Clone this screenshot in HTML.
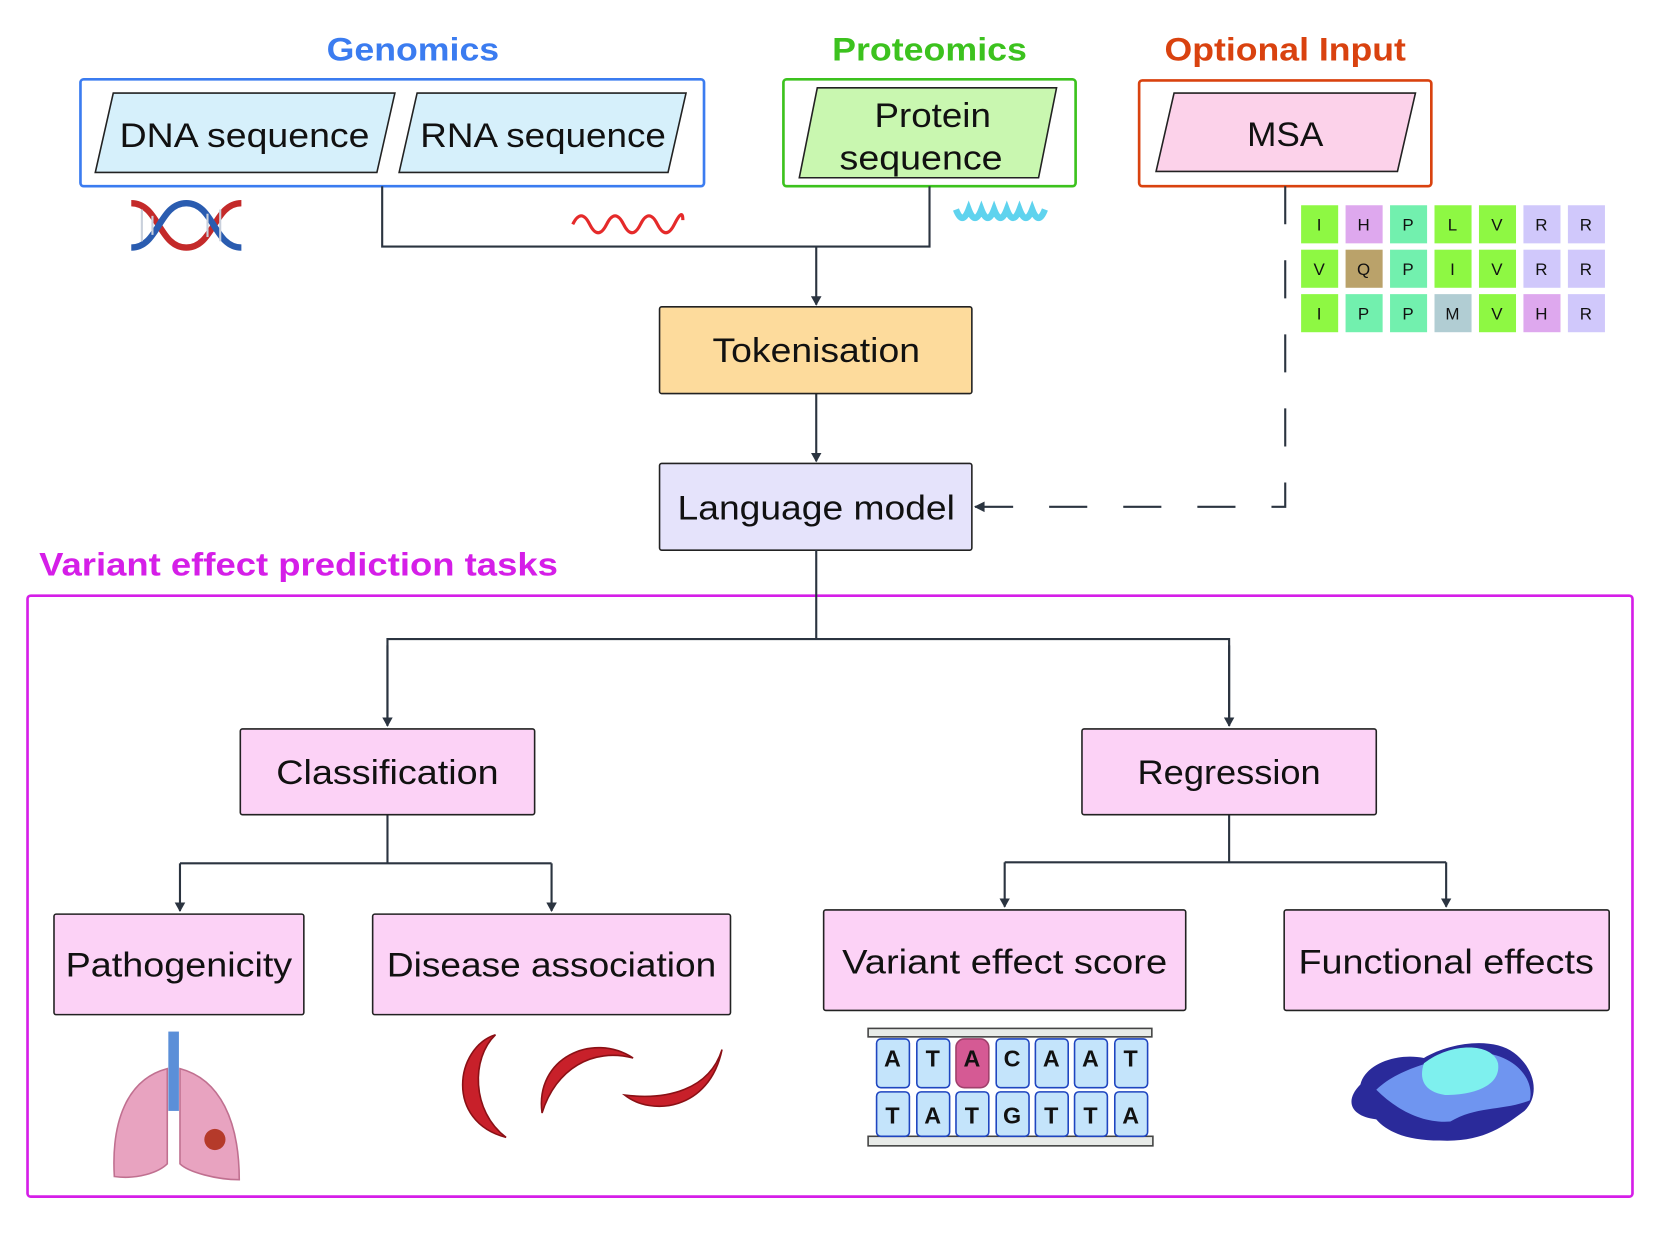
<!DOCTYPE html>
<html><head><meta charset="utf-8"><style>
html,body{margin:0;padding:0;background:#fff;}
svg{display:block;}
text{font-family:"Liberation Sans",sans-serif;}
</style></head><body>
<svg width="1660" height="1240" viewBox="0 0 1568 1172" preserveAspectRatio="none" xmlns="http://www.w3.org/2000/svg">
<defs>
<marker id="ar" markerWidth="10" markerHeight="10" refX="8" refY="5" orient="auto" markerUnits="userSpaceOnUse"><path d="M0,0 L9,5 L0,10 Z" fill="#2b3440"/></marker>
</defs>
<rect width="1568" height="1172" fill="#fff"/>
<g lengthAdjust="spacingAndGlyphs">
<text x="390" y="57" text-anchor="middle" font-size="31" font-weight="bold" fill="#3b7cf0" textLength="163" lengthAdjust="spacingAndGlyphs">Genomics</text>
<text x="878" y="57" text-anchor="middle" font-size="31" font-weight="bold" fill="#3cc21e" textLength="184" lengthAdjust="spacingAndGlyphs">Proteomics</text>
<text x="1214" y="57" text-anchor="middle" font-size="31" font-weight="bold" fill="#d9420f" textLength="228" lengthAdjust="spacingAndGlyphs">Optional Input</text>
</g>
<rect x="76" y="75" width="589" height="101" rx="3" fill="none" stroke="#3b7cf0" stroke-width="2.5"/>
<rect x="740" y="75" width="276" height="101" rx="3" fill="none" stroke="#3cc21e" stroke-width="2.5"/>
<rect x="1076" y="76" width="276" height="100" rx="3" fill="none" stroke="#d9420f" stroke-width="2.5"/>
<polygon points="107,88 373,88 356,163 90,163" fill="#d6f0fb" stroke="#222" stroke-width="1.5"/>
<text x="231" y="139" text-anchor="middle" font-size="32" fill="#111" textLength="236" lengthAdjust="spacingAndGlyphs">DNA sequence</text>
<polygon points="394,88 648,88 631,163 377,163" fill="#d6f0fb" stroke="#222" stroke-width="1.5"/>
<text x="513" y="139" text-anchor="middle" font-size="32" fill="#111" textLength="232" lengthAdjust="spacingAndGlyphs">RNA sequence</text>
<polygon points="772,83 998,83 981,168 755,168" fill="#c9f7b0" stroke="#222" stroke-width="1.5"/>
<text x="881" y="120" text-anchor="middle" font-size="32" fill="#111" textLength="110" lengthAdjust="spacingAndGlyphs">Protein</text>
<text x="870" y="160" text-anchor="middle" font-size="32" fill="#111" textLength="154" lengthAdjust="spacingAndGlyphs">sequence</text>
<polygon points="1109,88 1337,88 1320,162 1092,162" fill="#fcd2ea" stroke="#222" stroke-width="1.5"/>
<text x="1214" y="138" text-anchor="middle" font-size="32" fill="#111" textLength="72" lengthAdjust="spacingAndGlyphs">MSA</text>
<path d="M124,192 C150,192 150,234 176,234 C202,234 202,192 228,192" fill="none" stroke="#c42a2a" stroke-width="6"/>
<path d="M124,234 C150,234 150,192 176,192 C202,192 202,234 228,234" fill="none" stroke="#2a5cb0" stroke-width="6"/>
<g stroke="#c9d0dc" stroke-width="2"><line x1="134" y1="198" x2="134" y2="228"/><line x1="144" y1="204" x2="144" y2="222"/><line x1="196" y1="202" x2="196" y2="224"/><line x1="208" y1="198" x2="208" y2="228"/></g>
<path d="M541,212 q8,-16 16,0 t16,0 t16,0 t16,0 t16,0 t16,0 t8,-4" fill="none" stroke="#e52a2a" stroke-width="3"/>
<path d="M903,198 q6,16 12,0 q6,16 12,0 q6,16 12,0 q6,16 12,0 q6,16 12,0 q6,16 12,0 q6,16 12,0" fill="none" stroke="#5fd3ee" stroke-width="6"/>
<g stroke="#2b3440" stroke-width="2" fill="none">
<polyline points="361,176 361,233 878,233 878,176"/>
<line x1="771" y1="233" x2="771" y2="288" marker-end="url(#ar)"/>
<line x1="771" y1="372" x2="771" y2="436" marker-end="url(#ar)"/>
<polyline points="1214,176 1214,479 920,479" stroke-dasharray="36,34"/>
</g>
<path d="M920,479 L930,474 L930,484 Z" fill="#2b3440"/>
<g font-size="16" text-anchor="middle" fill="#111">
<rect x="1229" y="194" width="35" height="36" fill="#8ef843"/><text x="1246" y="218">I</text>
<rect x="1271" y="194" width="35" height="36" fill="#dea8ee"/><text x="1288" y="218">H</text>
<rect x="1313" y="194" width="35" height="36" fill="#72f0ae"/><text x="1330" y="218">P</text>
<rect x="1355" y="194" width="35" height="36" fill="#8ef843"/><text x="1372" y="218">L</text>
<rect x="1397" y="194" width="35" height="36" fill="#8ef843"/><text x="1414" y="218">V</text>
<rect x="1439" y="194" width="35" height="36" fill="#d0c8fb"/><text x="1456" y="218">R</text>
<rect x="1481" y="194" width="35" height="36" fill="#d0c8fb"/><text x="1498" y="218">R</text>
<rect x="1229" y="236" width="35" height="36" fill="#8ef843"/><text x="1246" y="260">V</text>
<rect x="1271" y="236" width="35" height="36" fill="#baa26a"/><text x="1288" y="260">Q</text>
<rect x="1313" y="236" width="35" height="36" fill="#72f0ae"/><text x="1330" y="260">P</text>
<rect x="1355" y="236" width="35" height="36" fill="#8ef843"/><text x="1372" y="260">I</text>
<rect x="1397" y="236" width="35" height="36" fill="#8ef843"/><text x="1414" y="260">V</text>
<rect x="1439" y="236" width="35" height="36" fill="#d0c8fb"/><text x="1456" y="260">R</text>
<rect x="1481" y="236" width="35" height="36" fill="#d0c8fb"/><text x="1498" y="260">R</text>
<rect x="1229" y="278" width="35" height="36" fill="#8ef843"/><text x="1246" y="302">I</text>
<rect x="1271" y="278" width="35" height="36" fill="#72f0ae"/><text x="1288" y="302">P</text>
<rect x="1313" y="278" width="35" height="36" fill="#72f0ae"/><text x="1330" y="302">P</text>
<rect x="1355" y="278" width="35" height="36" fill="#b1cdd3"/><text x="1372" y="302">M</text>
<rect x="1397" y="278" width="35" height="36" fill="#8ef843"/><text x="1414" y="302">V</text>
<rect x="1439" y="278" width="35" height="36" fill="#dea8ee"/><text x="1456" y="302">H</text>
<rect x="1481" y="278" width="35" height="36" fill="#d0c8fb"/><text x="1498" y="302">R</text>
</g>
<rect x="623" y="290" width="295" height="82" rx="2" fill="#fddb9c" stroke="#222" stroke-width="1.5"/>
<text x="771" y="342" text-anchor="middle" font-size="32" fill="#111" textLength="196" lengthAdjust="spacingAndGlyphs">Tokenisation</text>
<rect x="623" y="438" width="295" height="82" rx="2" fill="#e5e3fb" stroke="#222" stroke-width="1.5"/>
<text x="771" y="491" text-anchor="middle" font-size="32" fill="#111" textLength="262" lengthAdjust="spacingAndGlyphs">Language model</text>
<text x="37" y="544" font-size="31" font-weight="bold" fill="#d51ee8" textLength="490" lengthAdjust="spacingAndGlyphs">Variant effect prediction tasks</text>
<rect x="26" y="563" width="1516" height="568" rx="3" fill="none" stroke="#d51ee8" stroke-width="2.5"/>
<g stroke="#2b3440" stroke-width="2" fill="none">
<line x1="771" y1="520" x2="771" y2="604"/>
<polyline points="366,686 366,604 1161,604 1161,686"/>
<line x1="366" y1="610" x2="366" y2="686" marker-end="url(#ar)"/>
<line x1="1161" y1="610" x2="1161" y2="686" marker-end="url(#ar)"/>
<line x1="366" y1="770" x2="366" y2="816"/>
<polyline points="170,816 521,816"/>
<line x1="170" y1="816" x2="170" y2="861" marker-end="url(#ar)"/>
<line x1="521" y1="816" x2="521" y2="861" marker-end="url(#ar)"/>
<line x1="1161" y1="770" x2="1161" y2="815"/>
<polyline points="949,815 1366,815"/>
<line x1="949" y1="815" x2="949" y2="857" marker-end="url(#ar)"/>
<line x1="1366" y1="815" x2="1366" y2="857" marker-end="url(#ar)"/>
</g>
<g fill="#fcd2f6" stroke="#222" stroke-width="1.5">
<rect x="227" y="689" width="278" height="81" rx="2"/>
<rect x="1022" y="689" width="278" height="81" rx="2"/>
<rect x="51" y="864" width="236" height="95" rx="2"/>
<rect x="352" y="864" width="338" height="95" rx="2"/>
<rect x="778" y="860" width="342" height="95" rx="2"/>
<rect x="1213" y="860" width="307" height="95" rx="2"/>
</g>
<g font-size="32" fill="#111" text-anchor="middle">
<text x="366" y="741" textLength="210" lengthAdjust="spacingAndGlyphs">Classification</text>
<text x="1161" y="741" textLength="173" lengthAdjust="spacingAndGlyphs">Regression</text>
<text x="169" y="923" textLength="214" lengthAdjust="spacingAndGlyphs">Pathogenicity</text>
<text x="521" y="923" textLength="311" lengthAdjust="spacingAndGlyphs">Disease association</text>
<text x="949" y="920" textLength="307" lengthAdjust="spacingAndGlyphs">Variant effect score</text>
<text x="1366" y="920" textLength="279" lengthAdjust="spacingAndGlyphs">Functional effects</text>
</g>
<rect x="159" y="975" width="10" height="75" fill="#5b8fd8"/>
<path d="M158,1010 C120,1020 105,1060 108,1112 C130,1115 150,1108 158,1100 Z" fill="#e8a3c0" stroke="#c07090" stroke-width="1.5"/>
<path d="M170,1010 C208,1020 226,1060 226,1115 C205,1115 178,1108 170,1100 Z" fill="#e8a3c0" stroke="#c07090" stroke-width="1.5"/>
<circle cx="203" cy="1077" r="10" fill="#b53a2a"/>
<path d="M468,978 C430,990 420,1060 478,1075 C445,1050 445,1000 468,978 Z" fill="#c8202a" stroke="#8a1015" stroke-width="1.5"/>
<path d="M512,1052 C505,1000 560,975 598,1000 C560,990 525,1010 512,1052 Z" fill="#c8202a" stroke="#8a1015" stroke-width="1.5"/>
<path d="M590,1035 C615,1055 670,1050 682,992 C670,1030 630,1040 590,1035 Z" fill="#c8202a" stroke="#8a1015" stroke-width="1.5"/>
<rect x="820" y="972" width="268" height="8" fill="#e8ebe8" stroke="#444" stroke-width="1.5"/>
<rect x="820" y="1074" width="269" height="9" fill="#e8ebe8" stroke="#444" stroke-width="1.5"/>
<g stroke="#1f45c0" stroke-width="1.5" fill="#c4e4fb">
<rect x="828" y="982" width="31" height="46" rx="4"/>
<rect x="866" y="982" width="31" height="46" rx="4"/>
<rect x="903" y="982" width="31" height="46" rx="8" fill="#d55a94" stroke="#a0406c"/>
<rect x="941" y="982" width="31" height="46" rx="4"/>
<rect x="978" y="982" width="31" height="46" rx="4"/>
<rect x="1015" y="982" width="31" height="46" rx="4"/>
<rect x="1053" y="982" width="31" height="46" rx="4"/>
<rect x="828" y="1032" width="31" height="42" rx="4"/>
<rect x="866" y="1032" width="31" height="42" rx="4"/>
<rect x="903" y="1032" width="31" height="42" rx="4"/>
<rect x="941" y="1032" width="31" height="42" rx="4"/>
<rect x="978" y="1032" width="31" height="42" rx="4"/>
<rect x="1015" y="1032" width="31" height="42" rx="4"/>
<rect x="1053" y="1032" width="31" height="42" rx="4"/>
</g>
<g font-size="22" font-weight="bold" fill="#111" text-anchor="middle">
<text x="843" y="1008">A</text><text x="881" y="1008">T</text><text x="918" y="1008">A</text><text x="956" y="1008">C</text><text x="993" y="1008">A</text><text x="1030" y="1008">A</text><text x="1068" y="1008">T</text>
<text x="843" y="1062">T</text><text x="881" y="1062">A</text><text x="918" y="1062">T</text><text x="956" y="1062">G</text><text x="993" y="1062">T</text><text x="1030" y="1062">T</text><text x="1068" y="1062">A</text>
</g>
<path d="M1285,1025 C1290,1005 1320,995 1345,1000 C1370,985 1410,980 1430,995 C1450,1010 1455,1035 1440,1050 C1420,1065 1400,1080 1360,1078 C1330,1078 1310,1070 1300,1058 C1275,1055 1270,1040 1285,1025 Z" fill="#2a2a9a"/>
<path d="M1300,1030 C1320,1010 1360,1000 1395,995 C1430,995 1450,1020 1445,1040 C1420,1050 1395,1045 1370,1060 C1345,1062 1320,1050 1300,1030 Z" fill="#6f95f0"/>
<path d="M1345,1005 C1370,985 1410,985 1415,1005 C1418,1025 1395,1035 1365,1035 C1345,1032 1340,1020 1345,1005 Z" fill="#7ef0ee"/>
</svg>
</body></html>
